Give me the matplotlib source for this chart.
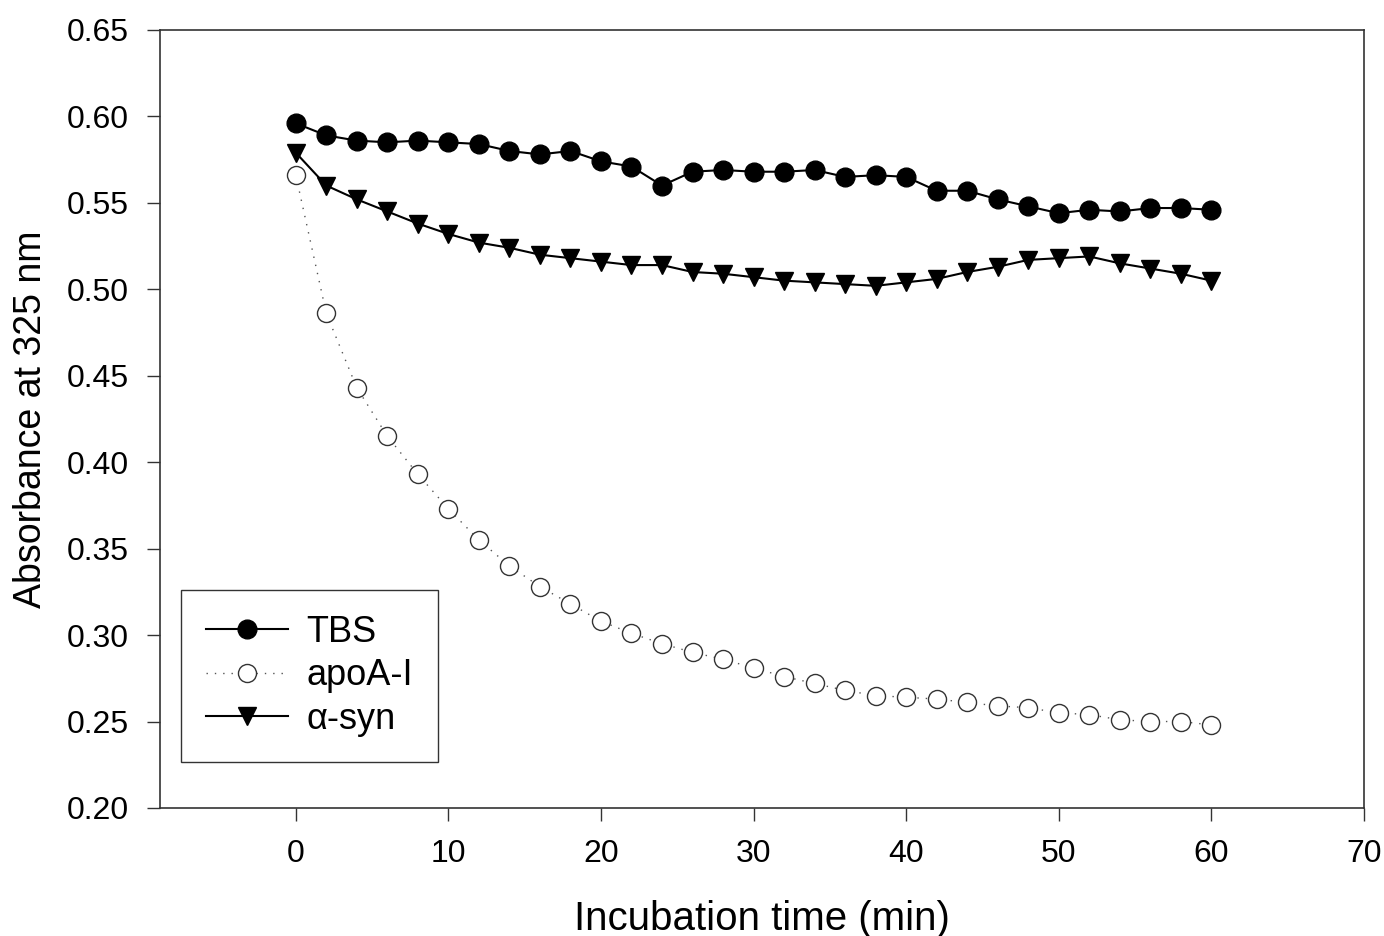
import matplotlib
matplotlib.use("Agg")
import matplotlib.pyplot as plt

plt.rcParams['font.family'] = ['Liberation Sans', 'DejaVu Sans']

# incubation time (min)
time = [0, 2, 4, 6, 8, 10, 12, 14, 16, 18, 20, 22, 24, 26, 28, 30,
        32, 34, 36, 38, 40, 42, 44, 46, 48, 50, 52, 54, 56, 58, 60]

tbs = [0.596, 0.589, 0.586, 0.585, 0.586, 0.585, 0.584, 0.580, 0.578, 0.580,
       0.574, 0.571, 0.560, 0.568, 0.569, 0.568, 0.568, 0.569, 0.565, 0.566,
       0.565, 0.557, 0.557, 0.552, 0.548, 0.544, 0.546, 0.545, 0.547, 0.547,
       0.546]

apoa1 = [0.566, 0.486, 0.443, 0.415, 0.393, 0.373, 0.355, 0.340, 0.328, 0.318,
         0.308, 0.301, 0.295, 0.290, 0.286, 0.281, 0.276, 0.272, 0.268, 0.265,
         0.264, 0.263, 0.261, 0.259, 0.258, 0.255, 0.254, 0.251, 0.250, 0.250,
         0.248]

asyn = [0.579, 0.560, 0.552, 0.545, 0.538, 0.532, 0.527, 0.524, 0.520, 0.518,
        0.516, 0.514, 0.514, 0.510, 0.509, 0.507, 0.505, 0.504, 0.503, 0.502,
        0.504, 0.506, 0.510, 0.513, 0.517, 0.518, 0.519, 0.515, 0.512, 0.509,
        0.505]

labels = ['TBS', 'apoA-I', '\u03b1-syn']

fig = plt.figure(figsize=(13.84, 9.36), dpi=100)
ax = fig.add_axes([0.1156, 0.1368, 0.8699, 0.8312])

ax.plot(time, tbs, '-', color='black', lw=1.5, marker='o', ms=13.5,
        mfc='black', mec='black', mew=1, label=labels[0])
ax.plot(time, apoa1, color='#555555', lw=1.0, ls=(0, (1, 5)), marker='o', ms=13,
        mfc='white', mec='#333333', mew=1, label=labels[1])
ax.plot(time, asyn, '-', color='black', lw=1.5, marker='v', ms=13,
        mfc='black', mec='black', mew=1, label=labels[2])

ax.set_xlim(-8.9, 70)
ax.set_ylim(0.20, 0.65)
ax.set_xticks(range(0, 71, 10))
ax.set_yticks([0.20, 0.25, 0.30, 0.35, 0.40, 0.45, 0.50, 0.55, 0.60, 0.65])
ax.set_yticklabels(['%.2f' % v for v in ax.get_yticks()])

for sp in ax.spines.values():
    sp.set_color('#333333')
    sp.set_linewidth(1.2)

ax.tick_params(direction='out', length=9.5, width=1, color='#333333',
               labelsize=23, pad=13)

ax.set_xlabel('Incubation time (min)', fontsize=29, labelpad=22)
ax.set_ylabel('Absorbance at 325 nm', fontsize=27, labelpad=13)

leg = ax.legend(loc='lower left', bbox_to_anchor=(0.0174, 0.0591),
                borderaxespad=0, fontsize=26, frameon=True, fancybox=False,
                handlelength=2.27, handletextpad=0.5, labelspacing=0.23,
                borderpad=0.7)
leg.get_frame().set_edgecolor('black')
leg.get_frame().set_linewidth(1.0)

fig.savefig('out.png', dpi=100)
